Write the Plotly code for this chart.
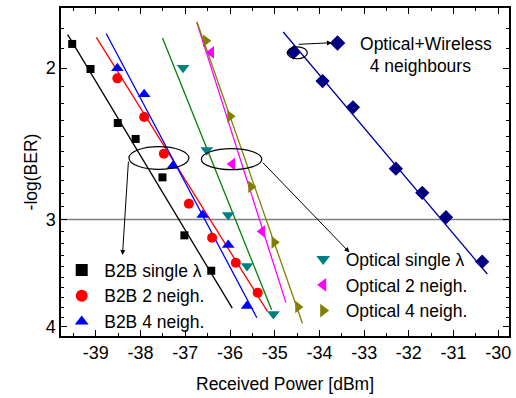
import math
import plotly.graph_objects as go

# ---- data (x: received power dBm, y: -log(BER)) ----
B2B_SINGLE_X = [-39.53, -39.12, -38.51, -38.11, -37.51, -37.02, -36.42]
B2B_SINGLE_Y = [1.875, 2.005, 2.317, 2.418, 2.680, 3.130, 3.441]
B2B_2N_X = [-38.52, -37.92, -37.48, -36.92, -36.40, -35.87, -35.38]
B2B_2N_Y = [2.056, 2.280, 2.515, 2.876, 3.150, 3.368, 3.649]
B2B_4N_X = [-38.52, -37.92, -37.28, -36.61, -36.04, -35.62]
B2B_4N_Y = [2.001, 2.146, 2.599, 2.964, 3.212, 3.781]
OPT_SINGLE_X = [-37.05, -36.52, -36.04, -35.62, -35.03]
OPT_SINGLE_Y = [1.998, 2.491, 2.964, 3.398, 3.863]
OPT_2N_X = [-36.42, -35.95, -35.28]
OPT_2N_Y = [1.918, 2.586, 3.097]
OPT_4N_X = [-36.54, -36.00, -35.53, -35.01, -34.48]
OPT_4N_Y = [1.859, 2.276, 2.748, 3.189, 3.792]
OW_4N_X = [-34.58, -33.93, -33.25, -32.29, -31.70, -31.17, -30.36]
OW_4N_Y = [1.918, 2.071, 2.222, 2.618, 2.793, 2.982, 3.359]

# linear-fit lines (end points)
FIT_B2B_SINGLE_X = [-39.63, -35.95]
FIT_B2B_SINGLE_Y = [1.829, 3.804]
FIT_B2B_2N_X = [-38.99, -35.16]
FIT_B2B_2N_Y = [1.842, 3.839]
FIT_B2B_4N_X = [-38.77, -35.40]
FIT_B2B_4N_Y = [1.823, 3.902]
FIT_OPT_SINGLE_X = [-37.51, -35.07]
FIT_OPT_SINGLE_Y = [1.845, 3.820]
FIT_OPT_2N_X = [-36.74, -34.75]
FIT_OPT_2N_Y = [1.772, 3.748]
FIT_OPT_4N_X = [-36.74, -34.38]
FIT_OPT_4N_Y = [1.767, 3.961]
FIT_OW_4N_X = [-34.81, -30.245]
FIT_OW_4N_Y = [1.816, 3.471]

X_TICKS = [-39, -38, -37, -36, -35, -34, -33, -32, -31, -30]
X_TICK_LABELS = ["-39", "-38", "-37", "-36", "-35", "-34", "-33", "-32", "-31", "-30"]
Y_TICKS = [2, 3, 4]
Y_TICK_LABELS = ["2", "3", "4"]
Y_MINOR = [1.8, 1.9, 2.1, 2.2, 2.3, 2.4, 2.5, 2.6, 2.7, 2.8, 2.9,
           3.1, 3.2, 3.3, 3.4, 3.5, 3.6, 3.7, 3.8, 3.9]
BER_THRESHOLD = 3

FONT = "Arial, 'Liberation Sans', sans-serif"
TXT = 17.5

fig = go.Figure()

series = [
    (B2B_SINGLE_X, B2B_SINGLE_Y, FIT_B2B_SINGLE_X, FIT_B2B_SINGLE_Y,
     "B2B single λ", "square", 8, "#000000", "#000000", "legend"),
    (B2B_2N_X, B2B_2N_Y, FIT_B2B_2N_X, FIT_B2B_2N_Y,
     "B2B 2 neigh.", "circle", 10, "#ff0000", "#ff0000", "legend"),
    (B2B_4N_X, B2B_4N_Y, FIT_B2B_4N_X, FIT_B2B_4N_Y,
     "B2B 4 neigh.", "triangle-up", 11, "#0000ff", "#0000ff", "legend"),
    (OPT_SINGLE_X, OPT_SINGLE_Y, FIT_OPT_SINGLE_X, FIT_OPT_SINGLE_Y,
     "Optical single λ", "triangle-down", 11, "#008080", "#008000", "legend2"),
    (OPT_2N_X, OPT_2N_Y, FIT_OPT_2N_X, FIT_OPT_2N_Y,
     "Optical 2 neigh.", "triangle-left", 11, "#ff00ff", "#ff00ff", "legend2"),
    (OPT_4N_X, OPT_4N_Y, FIT_OPT_4N_X, FIT_OPT_4N_Y,
     "Optical 4 neigh.", "triangle-right", 11, "#808000", "#808000", "legend2"),
    (OW_4N_X, OW_4N_Y, FIT_OW_4N_X, FIT_OW_4N_Y,
     "Optical+Wireless<br>&nbsp;&nbsp;4 neighbours", "diamond", 11, "#000080", "#0000a0", "legend3"),
]

for xs, ys, fx, fy, name, sym, size, mcol, lcol, leg in series:
    fig.add_trace(go.Scatter(x=fx, y=fy, mode="lines", showlegend=False,
                             line=dict(color=lcol, width=1.3), hoverinfo="skip"))
for xs, ys, fx, fy, name, sym, size, mcol, lcol, leg in series:
    fig.add_trace(go.Scatter(x=xs, y=ys, mode="markers", name=name, legend=leg,
                             marker=dict(symbol=sym, size=size, color=mcol,
                                         line=dict(width=0))))

L = math.log10
shapes = [
    dict(type="line", xref="paper", x0=0, x1=1, yref="y",
         y0=BER_THRESHOLD, y1=BER_THRESHOLD,
         line=dict(color="#7f7f7f", width=1.5), layer="below"),
    dict(type="circle", xref="x", yref="y", x0=-38.26, x1=-36.92,
         y0=10 ** 0.3925, y1=10 ** 0.4188, line=dict(color="black", width=1.2)),
    dict(type="circle", xref="x", yref="y", x0=-36.64, x1=-35.29,
         y0=10 ** 0.3948, y1=10 ** 0.4192, line=dict(color="black", width=1.2)),
    dict(type="circle", xref="x", yref="y", x0=-34.72, x1=-34.27,
         y0=10 ** 0.2763, y1=10 ** 0.2902, line=dict(color="black", width=1.2)),
]

arrow_style = dict(showarrow=True, arrowhead=2, arrowsize=1, arrowwidth=1,
                   arrowcolor="black", text="", xref="x", yref="y",
                   axref="x", ayref="y")
annotations = [
    dict(x=-38.405, y=0.5184, ax=-38.27, ay=0.408, **arrow_style),
    dict(x=-33.33, y=0.5153, ax=-35.30, ay=0.4091, **arrow_style),
    dict(x=-33.72, y=0.2716, ax=-34.50, ay=0.2735, **arrow_style),
]

axis_common = dict(showline=True, linecolor="black", linewidth=1.5, mirror="ticks",
                   ticks="inside", ticklen=6, tickwidth=1.2, tickcolor="black",
                   showgrid=False, zeroline=False, automargin=False,
                   tickfont=dict(family=FONT, size=18, color="black"))

legend_common = dict(xanchor="left", yanchor="top", bgcolor="rgba(0,0,0,0)",
                     font=dict(family=FONT, size=TXT), itemwidth=35,
                     itemsizing="constant")

fig.update_layout(
    width=516, height=398,
    margin=dict(l=61, r=7, t=8, b=62, autoexpand=False),
    paper_bgcolor="white", plot_bgcolor="white",
    font=dict(family=FONT, size=TXT, color="black"),
    shapes=shapes, annotations=annotations,
    xaxis=dict(range=[-39.78, -29.76], tickvals=X_TICKS, ticktext=X_TICK_LABELS,
               minor=dict(dtick=0.5, tick0=-39, ticks="inside", ticklen=3.5,
                          tickwidth=1.2, tickcolor="black"),
               title=dict(text="Received Power [dBm]", standoff=15,
                          font=dict(family=FONT, size=TXT)),
               **axis_common),
    yaxis=dict(type="log", range=[L(4.098), L(1.703)],
               tickvals=Y_TICKS, ticktext=Y_TICK_LABELS,
               minor=dict(tickvals=Y_MINOR, ticks="inside", ticklen=3.5,
                          tickwidth=1.2, tickcolor="black"),
               title=dict(text="-log(BER)", standoff=4,
                          font=dict(family=FONT, size=TXT)),
               **axis_common),
    legend=dict(x=-0.004, y=0.256, **legend_common),
    legend2=dict(x=0.535, y=0.289, **legend_common),
    legend3=dict(x=0.567, y=0.948, valign="top", **legend_common),
)

fig.write_html("out.html", config={"displayModeBar": False},
               post_script="document.body.style.margin='0';document.body.style.overflow='hidden';")
